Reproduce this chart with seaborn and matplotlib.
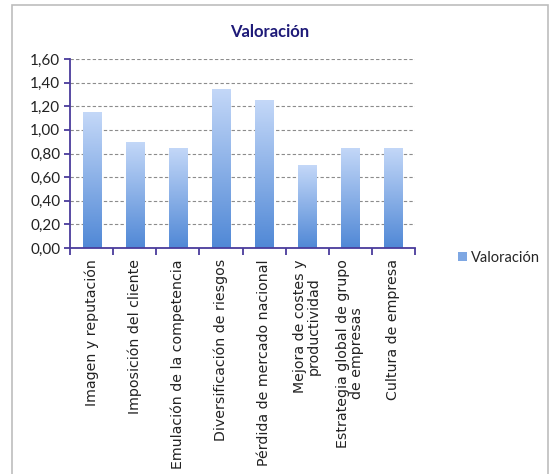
import matplotlib

matplotlib.use("Agg")

import matplotlib.pyplot as plt
import numpy as np
import seaborn as sns
from matplotlib.colors import LinearSegmentedColormap
from matplotlib.patches import Patch, Rectangle
from matplotlib.ticker import FuncFormatter, MultipleLocator


CATEGORIES = [
    "Imagen y reputación",
    "Imposición del cliente",
    "Emulación de la competencia",
    "Diversificación de riesgos",
    "Pérdida de mercado nacional",
    "Mejora de costes y\nproductividad",
    "Estrategia global de grupo\nde empresas",
    "Cultura de empresa",
]
VALUES = [1.15, 0.90, 0.85, 1.35, 1.25, 0.70, 0.85, 0.85]
SERIES = "Valoración"

AXIS_COLOR = "#4A3C9C"
TITLE_COLOR = "#1E1A78"
TOP_COLOR = "#C4D8F8"
BOTTOM_COLOR = "#5088D6"


def comma(value: float, _pos: float) -> str:
    return f"{value:.2f}".replace(".", ",")


sns.set_theme(style="white")
plt.rcParams["font.family"] = ["Lato", "DejaVu Sans"]

fig = plt.figure(figsize=(5.51, 4.74), dpi=100)
fig.patches.append(Rectangle((12 / 551, -0.01), 536 / 551, 1 - 5 / 474 + 0.01,
                             transform=fig.transFigure, fill=False,
                             edgecolor="#BDBDBD", linewidth=1.2))
ax = fig.add_axes([70 / 551, 1 - 248 / 474, 345 / 551, 189 / 474])

sns.barplot(x=list(range(len(VALUES))), y=VALUES, width=0.42, color=BOTTOM_COLOR, ax=ax)

cmap = LinearSegmentedColormap.from_list("bar", [BOTTOM_COLOR, TOP_COLOR])
grad = np.linspace(0, 1, 256).reshape(-1, 1)
for patch in ax.patches:
    x0, y0 = patch.get_x(), patch.get_y()
    w, h = patch.get_width(), patch.get_height()
    patch.set_facecolor("none")
    patch.set_edgecolor("none")
    im = ax.imshow(grad, extent=[x0, x0 + w, y0, y0 + h], origin="lower",
                   cmap=cmap, aspect="auto", zorder=2)
    im.set_clip_path(patch)

ax.set_xlim(-0.5, len(VALUES) - 0.5)
ax.set_ylim(0, 1.6)
ax.yaxis.set_major_locator(MultipleLocator(0.2))
ax.yaxis.set_major_formatter(FuncFormatter(comma))
ax.grid(axis="y", linestyle=(0, (3, 2)), color="#8C8C8C", linewidth=0.8)
ax.set_axisbelow(True)

for side in ("top", "right"):
    ax.spines[side].set_visible(False)
for side in ("left", "bottom"):
    ax.spines[side].set_color(AXIS_COLOR)
    ax.spines[side].set_linewidth(1.3)

ax.set_xticks(range(len(CATEGORIES)))
ax.set_xticklabels(CATEGORIES, rotation=90, va="top", ha="center",
                   multialignment="center", family="DejaVu Sans", fontsize=10.2,
                   color="#222222", linespacing=1.0)
ax.set_xticks(np.arange(-0.5, len(CATEGORIES)), minor=True)
ax.tick_params(axis="x", which="major", length=0, pad=8)
ax.tick_params(axis="x", which="minor", length=5, width=1.3, color=AXIS_COLOR,
               direction="out", bottom=True)
ax.tick_params(axis="y", length=4, width=1.3, color=AXIS_COLOR, direction="out",
               left=True, labelsize=11, labelcolor="#222222", pad=3)
ax.set_xlabel("")
ax.set_ylabel("")

fig.text(270 / 551, 1 - 32 / 474, SERIES, ha="center", va="center",
         fontsize=12, fontweight="bold", color=TITLE_COLOR)

fig.legend(handles=[Patch(facecolor="#7EA7E3", edgecolor="none", label=SERIES)],
           loc="center left", bbox_to_anchor=(455 / 551, 1 - 258 / 474),
           frameon=False, fontsize=10.5, handlelength=0.6, handleheight=0.6,
           handletextpad=0.3, borderpad=0.2, borderaxespad=0)

fig.savefig("out.png", dpi=100, facecolor="white")
